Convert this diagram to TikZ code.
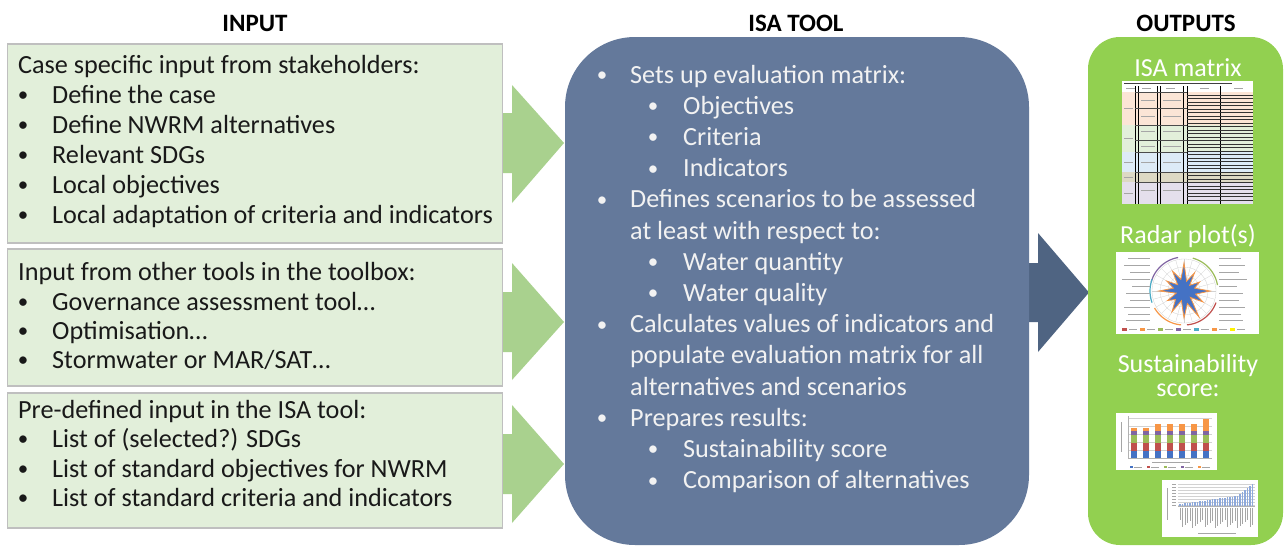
\documentclass[tikz,border=0pt]{standalone}
\usepackage{fontspec}
\setmainfont{Carlito}
\definecolor{inbox}{HTML}{E2EFDA}
\definecolor{inborder}{HTML}{BFBFBF}
\definecolor{garrow}{HTML}{A9D18E}
\definecolor{isafill}{HTML}{64799B}
\definecolor{darrow}{HTML}{4F6482}
\definecolor{outfill}{HTML}{92D050}
\definecolor{isatext}{HTML}{F2F2F2}
\definecolor{mpeach}{HTML}{FBE5D6}
\definecolor{mgreen}{HTML}{E2EFDA}
\definecolor{mblue}{HTML}{DDEBF7}
\definecolor{mtan}{HTML}{DDD9C4}
\definecolor{mlav}{HTML}{E4DFEC}
\definecolor{cblue}{HTML}{4472C4}
\definecolor{cred}{HTML}{C0504D}
\definecolor{cgreen}{HTML}{9BBB59}
\definecolor{cpurple}{HTML}{8064A2}
\definecolor{corange}{HTML}{F79646}
\definecolor{cteal}{HTML}{4BACC6}
\definecolor{clblue}{HTML}{8EA9DB}
% bullet centred in a 12pt box, then a gap, then the text
\newcommand\bitem[2]{\makebox[12pt][c]{\raisebox{1.5pt}{\scalebox{0.8}{•}}}\hspace*{#1}#2}
\begin{document}
\begin{tikzpicture}[x=1pt,y=-1pt,
  inputbox/.style={draw=inborder, line width=1.2pt, fill=inbox, minimum width=495pt, inner sep=0pt},
  txt/.style={anchor=base west, inner sep=0pt, font=\fontsize{26.2}{31}\selectfont, text=black!90},
  itxt/.style={txt, text=isatext},
  otxt/.style={anchor=base, inner sep=0pt, font=\fontsize{26}{31}\selectfont, text=white},
  head/.style={anchor=base, inner sep=0pt, font=\fontsize{25}{30}\selectfont\bfseries},
  garr/.style={fill=garrow},
  tmark/.style={gray!70, line width=0.5pt},
  gridln/.style={gray!35, line width=0.3pt}]
\useasboundingbox (0,0) rectangle (1286,546);
\fill[white] (0,0) rectangle (1286,546);

% headings
\node[head] (hin) at (255,31) {INPUT};
\node[head] (hisa) at (796,31) {ISA TOOL};
\node[head] (hout) at (1186,31) {OUTPUTS};

% block arrows
\path[garr] (498,113) -- (512,113) -- (512,85) -- (564,143) -- (512,203) -- (512,173) -- (498,173) -- cycle;
\path[garr] (498,292) -- (512,292) -- (512,263) -- (564,322) -- (512,380) -- (512,352) -- (498,352) -- cycle;
\path[garr] (498,434) -- (512,434) -- (512,405) -- (564,464) -- (512,523) -- (512,494) -- (498,494) -- cycle;
\fill[darrow] (1025,263) -- (1038,263) -- (1038,233) -- (1089,292.5) -- (1038,352) -- (1038,322) -- (1025,322) -- cycle;

% input boxes
\node[inputbox, minimum height=199pt] (in1) at (255,143.5) {};
\node[inputbox, minimum height=137pt] (in2) at (255,317.5) {};
\node[inputbox, minimum height=135pt] (in3) at (255,460.5) {};

% ISA tool box and outputs panel
\node[fill=isafill, rounded corners=70pt, minimum width=464pt, minimum height=508pt, inner sep=0pt] (isa) at (797,291) {};
\node[fill=outfill, rounded corners=32pt, minimum width=195pt, minimum height=508pt, inner sep=0pt] (out) at (1185.5,291) {};

% input texts
\node[txt] (a0) at (18,73) {Case specific input from stakeholders:};
\node[txt] (a1) at (17,103) {\bitem{23pt}{Define the case}};
\node[txt] (a2) at (17,133) {\bitem{23pt}{Define NWRM alternatives}};
\node[txt] (a3) at (17,163) {\bitem{23pt}{Relevant SDGs}};
\node[txt] (a4) at (17,193) {\bitem{23pt}{Local objectives}};
\node[txt] (a5) at (17,223) {\bitem{23pt}{Local adaptation of criteria and indicators}};
\node[txt] (b0) at (18,280) {Input from other tools in the toolbox:};
\node[txt] (b1) at (17,310) {\bitem{23pt}{Governance assessment tool…}};
\node[txt] (b2) at (17,339) {\bitem{23pt}{Optimisation…}};
\node[txt] (b3) at (17,368) {\bitem{23pt}{Stormwater or MAR/SAT…}};
\node[txt] (c0) at (18,418) {Pre-defined input in the ISA tool:};
\node[txt] (c1) at (17,447) {\bitem{23pt}{List of (selected?) SDGs}};
\node[txt] (c2) at (17,477) {\bitem{23pt}{List of standard objectives for NWRM}};
\node[txt] (c3) at (17,506) {\bitem{23pt}{List of standard criteria and indicators}};

% ISA texts
\node[itxt] (d0) at (596,83) {\bitem{22pt}{Sets up evaluation matrix:}};
\node[itxt] (d1) at (647,114.2) {\bitem{24pt}{Objectives}};
\node[itxt] (d2) at (647,145.4) {\bitem{24pt}{Criteria}};
\node[itxt] (d3) at (647,176.6) {\bitem{24pt}{Indicators}};
\node[itxt] (d4) at (596,207.8) {\bitem{22pt}{Defines scenarios to be assessed}};
\node[itxt] (d5) at (630,239) {at least with respect to:};
\node[itxt] (d6) at (647,270.2) {\bitem{24pt}{Water quantity}};
\node[itxt] (d7) at (647,301.4) {\bitem{24pt}{Water quality}};
\node[itxt] (d8) at (596,332.6) {\bitem{22pt}{Calculates values of indicators and}};
\node[itxt] (d9) at (630,363.8) {populate evaluation matrix for all};
\node[itxt] (d10) at (630,395) {alternatives and scenarios};
\node[itxt] (d11) at (596,426.2) {\bitem{22pt}{Prepares results:}};
\node[itxt] (d12) at (647,457.4) {\bitem{24pt}{Sustainability score}};
\node[itxt] (d13) at (647,488.6) {\bitem{24pt}{Comparison of alternatives}};

% output texts
\node[otxt] (o1) at (1188,76) {ISA matrix};
\node[otxt] (o2) at (1188,243) {Radar plot(s)};
\node[otxt, align=center, font=\fontsize{26}{23.5}\selectfont] (o3) at (1188,396) {Sustainability\\score:};

% ---- ISA matrix thumbnail
\fill[white] (1122,81) rectangle (1253,204);
\fill[mpeach] (1122,92) rectangle (1253,125);
\fill[mgreen] (1122,125) rectangle (1253,152);
\fill[mblue] (1122,152) rectangle (1253,172);
\fill[mtan] (1122,172) rectangle (1253,182);
\fill[mlav] (1122,182) rectangle (1253,204);
\draw[black!75, line width=0.9pt] (1124,83) -- (1232,83);
\foreach \x in {1126,1142,1166,1200,1234} \draw[tmark] (\x,88) -- (\x+9,88);
\foreach \x in {1135,1138,1157,1160,1183.5,1187,1220} \draw[black, line width=0.6pt] (\x,86) -- (\x,204);
\foreach \y in {95,98.5,...,202} \draw[black!80, line width=0.35pt] (1187,\y) -- (1253,\y);
\foreach \y in {92,108,125,140,152,172,182} \draw[black!70, line width=0.4pt] (1135,\y) -- (1187,\y);
\foreach \y in {100,116,131,146,162,190} {\draw[tmark] (1141,\y) -- (1155,\y); \draw[tmark] (1163,\y) -- (1181,\y);}
\foreach \y in {108,138,162,177,193} \draw[tmark] (1124,\y) -- (1133,\y);

% ---- radar plot thumbnail
\fill[white] (1116,252) rectangle (1259,334);
\begin{scope}[shift={(1184,291)}]
  \foreach \r in {8,16,24,32} \draw[gridln] (0,0) circle[radius=\r];
  \foreach \a in {0,15,...,345} \draw[gridln] (0,0) -- (\a:32);
  \filldraw[fill=cblue, draw=corange, line width=0.8pt]
    (0:26) -- (15:12) -- (30:22) -- (45:9) -- (60:30) -- (75:13) -- (90:27) -- (105:10) -- (120:24)
    -- (135:12) -- (150:19) -- (165:8) -- (180:25) -- (195:11) -- (210:20) -- (225:9) -- (240:23)
    -- (255:12) -- (270:28) -- (285:10) -- (300:21) -- (315:8) -- (330:18) -- (345:11) -- cycle;
  \draw[cred, line width=1.2pt] plot[variable=\t, domain=20:85, samples=20] (\t:34);
  \draw[cgreen, line width=1.2pt] plot[variable=\t, domain=-75:-10, samples=20] (\t:34);
  \draw[cpurple, line width=1.2pt] plot[variable=\t, domain=-165:-100, samples=20] (\t:34);
  \draw[cteal, line width=1.2pt] plot[variable=\t, domain=160:200, samples=12] (\t:34);
  \draw[corange, line width=1.2pt] plot[variable=\t, domain=95:150, samples=20] (\t:34);
\end{scope}
\foreach \y/\l in {258/22,265/26,272/20,279/28,286/18,293/24,300/20,307/26,314/22,320/24}
  {\draw[tmark] (1150-\l,\y) -- (1150,\y); \draw[tmark] (1219,\y) -- (1219+\l,\y);}
\foreach \x/\c in {1122/cred,1140/corange,1158/cgreen,1176/cpurple,1194/cteal,1212/corange,1230/yellow}
  {\fill[\c] (\x,328) rectangle (\x+5,330.5); \draw[tmark] (\x+7,329.2) -- (\x+15,329.2);}

% ---- stacked bar chart thumbnail
\fill[white] (1116,413) rectangle (1217,470);
\foreach \y in {418,426,434,442,450} \draw[gridln] (1128,\y) -- (1212,\y);
\draw[gray!60, line width=0.4pt] (1128,416) -- (1128,458) -- (1212,458);
\draw[tmark] (1121,422) -- (1121,452);
\foreach \i/\o in {0/428,1/428,2/424,3/424,4/424,5/424,6/419} {
  \pgfmathsetmacro{\xc}{1134+12*\i}
  \fill[cblue] (\xc-3,458) rectangle (\xc+3,451);
  \fill[cred] (\xc-3,451) rectangle (\xc+3,443);
  \fill[cgreen] (\xc-3,443) rectangle (\xc+3,435);
  \fill[cpurple] (\xc-3,435) rectangle (\xc+3,431);
  \fill[corange] (\xc-3,431) rectangle (\xc+3,\o);
}
\draw[tmark] (1152,462) -- (1190,462);
\foreach \x/\c in {1130/cblue,1147/cred,1164/cgreen,1181/cpurple,1198/corange}
  {\fill[\c] (\x,466) rectangle (\x+3,468); \draw[tmark] (\x+4,467) -- (\x+12,467);}

% ---- sorted bar chart thumbnail
\fill[white] (1162,480) rectangle (1258,537);
\foreach \y in {484,487,...,505} \draw[gridln] (1178,\y) -- (1255,\y);
\foreach \y in {484,487,...,505} \draw[tmark, line width=0.3pt] (1172,\y) -- (1176,\y);
\draw[tmark] (1167,488) -- (1167,520);
\foreach \i in {0,...,29} {
  \pgfmathsetmacro{\xb}{1179+2.5*\i}
  \pgfmathsetmacro{\hb}{2+0.35*\i+max(0,\i-23)*1.6}
  \fill[clblue] (\xb,506) rectangle (\xb+1.5,506-\hb);
  \pgfmathsetmacro{\lb}{12+mod(\i*7,9)}
  \draw[tmark, line width=0.35pt] (\xb+0.7,508) -- (\xb+0.7,508+\lb);
}
\draw[gray!60, line width=0.4pt] (1178,506) -- (1255,506);
\draw[tmark] (1198,533) -- (1236,533);
\end{tikzpicture}
\end{document}
